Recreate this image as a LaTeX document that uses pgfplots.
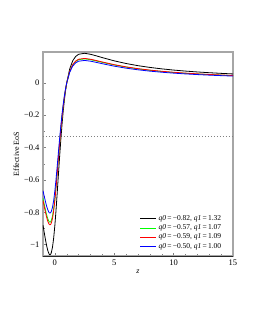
\documentclass[border=0pt]{standalone}
\usepackage{fontspec}
\setmainfont{Liberation Serif}
\usepackage{pgfplots}
\pgfplotsset{compat=1.18}
\begin{document}
\begin{tikzpicture}[x=1pt,y=1pt]
\useasboundingbox (-43,-74) rectangle (212,256);
\begin{axis}[
  at={(0,0)}, anchor=south west,
  scale only axis, width=190pt, height=204pt,
  xmin=-1, xmax=15, ymin=-1.07, ymax=0.19,
  xtick={0,5,10,15}, xticklabels={0,5,10,15},
  ytick={-1,-0.8,-0.6,-0.4,-0.2,0},
  yticklabels={−1,−0.8,−0.6,−0.4,−0.2,0},
  minor x tick num=4, minor y tick num=1,
  tick align=inside,
  axis line style={gray!70, line width=1.2pt},
  major tick style={gray, line width=0.4pt},
  minor tick style={gray, line width=0.4pt},
  major tick length=3pt, minor tick length=2pt,
  xtick pos=bottom, ytick pos=left,
  tick label style={font=\fontsize{8.5}{9}\selectfont},
  xlabel={\textit{z}}, ylabel={Effective EoS},
  label style={font=\fontsize{8}{9}\selectfont},
  xlabel style={yshift=2pt},
  ylabel style={yshift=-2pt},
  legend style={draw=none, fill=none, at={(0.955,0.015)}, anchor=south east,
    font=\fontsize{7.5}{8}\selectfont, row sep=-1.2pt, inner sep=1pt},
  legend cell align=left,
  legend image code/.code={\draw[#1, line width=0.5pt] (0pt,0pt) -- (16pt,0pt);},
]
\addplot[gray, dash pattern=on 0.9pt off 2.1pt, line width=0.9pt, forget plot] coordinates {(-1,-0.33333) (15,-0.33333)};
\addplot[black, line width=0.8pt] coordinates {
(-1,-0.88) (-0.9,-0.92375) (-0.8,-0.96585) (-0.7,-1.00403) (-0.6,-1.03529) (-0.5,-1.056) (-0.45,-1.06112) (-0.4,-1.06207) (-0.35,-1.05835) (-0.3,-1.04954) (-0.2,-1.01539) (-0.1,-0.95842) (0,-0.88) (0.1,-0.78416) (0.2,-0.67692) (0.3,-0.56514) (0.4,-0.45517) (0.5,-0.352) (0.6,-0.25883) (0.7,-0.17718) (0.8,-0.10732) (0.9,-0.04862) (1,0) (1.25,0.08585) (1.5,0.13539) (1.75,0.16247) (2,0.176) (2.5,0.18207) (3,0.176) (3.5,0.16604) (4,0.15529) (5,0.13539) (6,0.11892) (7,0.1056) (8,0.09477) (9,0.08585) (10,0.07842) (11,0.07213) (12,0.06676) (13,0.06212) (14,0.05807) (15,0.05452)};
\addlegendentry{\textit{q0}\,=\,−0.82, \textit{q1}\,=\,1.32}
\addplot[green, line width=0.8pt] coordinates {
(-1,-0.71333) (-0.9,-0.74880) (-0.8,-0.78292) (-0.7,-0.81387) (-0.6,-0.83921) (-0.5,-0.856) (-0.45,-0.86015) (-0.4,-0.86092) (-0.35,-0.85790) (-0.3,-0.85076) (-0.2,-0.82308) (-0.1,-0.77690) (0,-0.71333) (0.1,-0.63564) (0.2,-0.54872) (0.3,-0.45810) (0.4,-0.36896) (0.5,-0.28533) (0.6,-0.20980) (0.7,-0.14362) (0.8,-0.08699) (0.9,-0.03941) (1,0) (1.25,0.06959) (1.5,0.10975) (1.75,0.13170) (2,0.14267) (2.5,0.14759) (3,0.14267) (3.5,0.13459) (4,0.12588) (5,0.10975) (6,0.09640) (7,0.08560) (8,0.07682) (9,0.06959) (10,0.06357) (11,0.05847) (12,0.05411) (13,0.05035) (14,0.04707) (15,0.04419)};
\addlegendentry{\textit{q0}\,=\,−0.57, \textit{q1}\,=\,1.07}
\addplot[red, line width=0.8pt] coordinates {
(-1,-0.72667) (-0.9,-0.76280) (-0.8,-0.79756) (-0.7,-0.82909) (-0.6,-0.85491) (-0.5,-0.872) (-0.45,-0.87623) (-0.4,-0.87702) (-0.35,-0.87394) (-0.3,-0.86667) (-0.2,-0.83847) (-0.1,-0.79142) (0,-0.72667) (0.1,-0.64753) (0.2,-0.55898) (0.3,-0.46667) (0.4,-0.37586) (0.5,-0.29067) (0.6,-0.21373) (0.7,-0.14631) (0.8,-0.08862) (0.9,-0.04015) (1,0) (1.25,0.07089) (1.5,0.11180) (1.75,0.13416) (2,0.14533) (2.5,0.15035) (3,0.14533) (3.5,0.13711) (4,0.12824) (5,0.11180) (6,0.09820) (7,0.08720) (8,0.07826) (9,0.07089) (10,0.06475) (11,0.05957) (12,0.05513) (13,0.05130) (14,0.04795) (15,0.04502)};
\addlegendentry{\textit{q0}\,=\,−0.59, \textit{q1}\,=\,1.09}
\addplot[blue, line width=0.8pt] coordinates {
(-1,-0.66667) (-0.9,-0.69981) (-0.8,-0.73171) (-0.7,-0.76063) (-0.6,-0.78431) (-0.5,-0.8) (-0.45,-0.80388) (-0.4,-0.80460) (-0.35,-0.80178) (-0.3,-0.79511) (-0.2,-0.76923) (-0.1,-0.72607) (0,-0.66667) (0.1,-0.59406) (0.2,-0.51282) (0.3,-0.42813) (0.4,-0.34483) (0.5,-0.26667) (0.6,-0.19608) (0.7,-0.13423) (0.8,-0.0813) (0.9,-0.03683) (1,0) (1.25,0.06504) (1.5,0.10257) (1.75,0.12308) (2,0.13333) (2.5,0.13793) (3,0.13333) (3.5,0.12579) (4,0.11765) (5,0.10257) (6,0.09009) (7,0.08) (8,0.07179) (9,0.06504) (10,0.05941) (11,0.05465) (12,0.05057) (13,0.04706) (14,0.04399) (15,0.04130)};
\addlegendentry{\textit{q0}\,=\,−0.50, \textit{q1}\,=\,1.00}
\draw[black!85, line width=0.6pt] (rel axis cs:0,0) -- (rel axis cs:1,0);
\end{axis}
\end{tikzpicture}
\end{document}
